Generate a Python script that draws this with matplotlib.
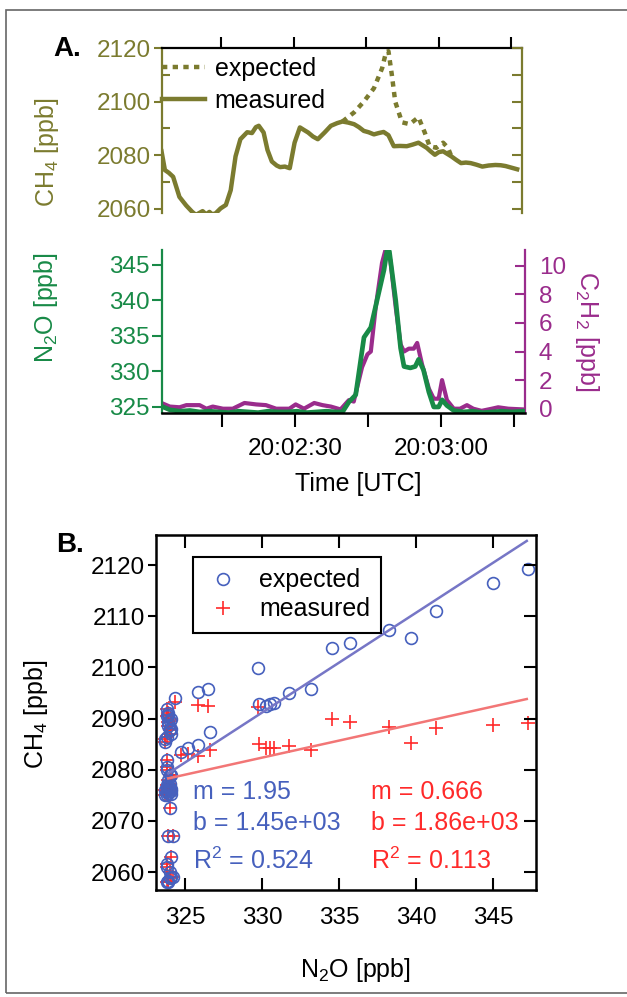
import numpy as np
import matplotlib
matplotlib.use("Agg")
import matplotlib.pyplot as plt
from matplotlib.patches import Rectangle
from matplotlib.ticker import FixedLocator, MultipleLocator, NullFormatter

plt.rcParams['font.family'] = ['Liberation Sans', 'DejaVu Sans']
plt.rcParams['mathtext.fontset'] = 'custom'
plt.rcParams['mathtext.rm'] = 'Liberation Sans'
plt.rcParams['mathtext.default'] = 'regular'

OLIVE = '#7b7b2f'
GREEN = '#188a47'
PURPLE = '#9a2c8c'
BLUE = '#4660bd'
BLUE_LINE = '#7676c6'
RED = '#ff2a2a'
RED_LINE = '#f27676'

# --- panel A: time series, time in seconds after 20:02:00 UTC ---
t_ch4 = [2.7, 3.4, 4.2, 5.1, 6.4, 7.8, 9.0, 9.8, 10.5, 11.2, 11.9, 12.6, 13.2, 13.9,
         14.9, 16.0, 17.0, 18.0, 19.0, 20.4, 21.4, 22.2, 22.8, 23.8, 24.6, 25.5, 26.5,
         27.2, 28.2, 29.2, 30.2, 31.3, 32.0, 33.0, 34.0, 35.0, 36.4, 37.7, 39.0, 40.1,
         41.3, 42.5, 43.5, 44.5, 45.5, 46.6, 47.6, 48.6, 49.6, 50.7, 52.0, 53.4, 54.6,
         55.8, 56.6, 57.5, 58.3, 59.2, 60.0, 60.9, 61.7, 62.6, 63.6, 64.6, 65.6, 66.6,
         67.8, 69.0, 70.3, 71.7, 72.8, 73.8, 75.0, 76.2]
ch4_measured = [2081.5, 2074.5, 2073.5, 2072.0, 2064.5, 2061.3, 2059.0, 2057.8, 2058.5,
                2059.2, 2058.0, 2058.9, 2058.0, 2058.4, 2060.2, 2061.5, 2067.0, 2079.6,
                2086.0, 2088.6, 2088.3, 2090.5, 2091.0, 2088.5, 2082.0, 2077.7, 2076.2,
                2075.6, 2075.8, 2075.2, 2084.7, 2090.4, 2089.6, 2088.5, 2087.0, 2086.0,
                2088.5, 2091.0, 2092.0, 2092.6, 2092.2, 2091.6, 2090.5, 2089.1, 2088.6,
                2087.8, 2088.3, 2088.7, 2087.5, 2083.4, 2083.5, 2083.4, 2084.0, 2084.7,
                2083.8, 2082.8, 2081.5, 2080.2, 2081.2, 2081.5, 2080.6, 2079.6, 2078.3,
                2077.1, 2077.3, 2077.1, 2076.5, 2075.8, 2076.2, 2076.4, 2076.3, 2076.0,
                2075.4, 2074.8]
t_exp = [40.1, 42.5, 44.5, 46.6, 48.3, 49.1, 49.6, 50.3, 51.0, 52.4, 54.0, 55.8, 57.1,
         58.1, 59.5, 60.9, 61.9, 62.6]
ch4_expected = [2092.6, 2096.0, 2100.0, 2105.0, 2112.5, 2118.5, 2118.8, 2110.0, 2100.0,
                2092.3, 2091.6, 2094.2, 2088.5, 2083.4, 2082.8, 2084.7, 2082.8, 2079.6]

t_n2o = [2.7, 4.4, 6.4, 8.5, 10.5, 12.5, 14.5, 16.5, 18.5, 20.5, 22.5, 24.5, 26.5, 28.5,
         30.5, 32.5, 34.5, 36.5, 38.5, 39.8, 41.1, 42.5, 44.2, 45.6, 47.2, 48.3, 48.9,
         49.4, 50.7, 51.7, 52.4, 53.7, 54.7, 55.4, 56.4, 57.5, 58.5, 59.5, 60.2, 61.2,
         62.6, 64.5, 66.5, 68.5, 70.5, 72.5, 74.5, 76.8]
n2o = [325.1, 324.6, 324.4, 324.5, 324.3, 324.4, 324.3, 324.2, 324.4, 324.3, 324.2,
       324.4, 324.3, 324.3, 324.4, 324.2, 324.3, 324.4, 324.3, 324.3, 325.7, 326.7,
       334.8, 336.2, 341.0, 344.3, 346.9, 346.9, 340.0, 333.3, 330.7, 330.5, 330.7,
       331.7, 330.2, 327.1, 325.0, 325.0, 326.0, 325.2, 324.5, 324.3, 324.4, 324.2,
       324.3, 324.4, 324.3, 324.4]

t_c2h2 = [2.7, 4.4, 6.4, 7.8, 10.5, 11.9, 13.2, 15.3, 17.3, 19.7, 22.1, 24.1, 26.2,
          28.9, 30.2, 31.9, 34.0, 35.7, 37.4, 39.4, 41.1, 42.1, 43.8, 44.9, 45.6, 46.6,
          47.9, 48.6, 49.6, 50.7, 51.7, 52.4, 53.4, 54.4, 55.1, 56.1, 57.5, 58.5, 59.5,
          60.2, 61.2, 62.6, 63.9, 65.3, 66.6, 68.3, 70.4, 71.7, 73.8, 76.8]
c2h2 = [0.4, 0.15, 0.1, 0.25, 0.25, 0.0, 0.15, 0.0, 0.0, 0.4, 0.3, 0.25, 0.0, 0.0, 0.3,
        0.0, 0.4, 0.25, 0.15, -0.05, 0.6, 0.5, 2.9, 3.8, 4.0, 7.1, 10.2, 11.1, 10.4, 7.1,
        4.5, 4.0, 4.2, 4.2, 4.6, 3.1, 1.4, 0.7, 0.7, 2.0, 0.6, 0.0, 0.0, 0.25, 0.0,
        -0.15, 0.0, 0.1, 0.0, -0.05]

time_ticks = [15, 30, 45, 60, 75]
time_labels = ['', '20:02:30', '', '20:03:00', '']

# --- panel B: CH4 vs N2O scatter ---
scatter_n2o = [323.8, 323.7, 324.0, 323.9, 324.1, 323.8, 324.2, 323.9, 324.0, 323.8,
               324.1, 323.9, 324.0, 323.8, 324.2, 324.1, 323.7, 324.0, 323.9, 323.8,
               323.9, 324.1, 323.8, 324.0, 323.7, 323.9, 324.1, 323.8, 324.0, 323.9,
               324.1, 323.8, 323.7, 324.0, 324.1, 323.9, 323.8, 324.0, 323.9, 323.8,
               324.0, 323.9, 324.1, 323.8, 324.0, 323.9, 323.8, 324.0, 324.1, 323.9,
               323.8,
               324.36, 324.73, 325.2, 325.8, 325.82, 326.5, 326.6, 329.74, 329.8,
               330.26, 330.5, 330.78, 331.74, 333.2, 334.55, 335.74, 338.23, 339.69,
               341.3, 344.99, 347.27]
ch4_exp_scatter = [2080.5, 2075.0, 2072.5, 2067.0, 2063.0, 2061.0, 2059.0, 2058.0, 2058.8,
                   2058.0, 2059.0, 2058.3, 2060.0, 2061.5, 2067.0, 2079.0, 2085.5, 2088.0,
                   2088.5, 2090.5, 2090.8, 2087.0, 2080.0, 2076.5, 2076.0, 2075.5, 2075.3,
                   2082.0, 2089.5, 2089.3, 2088.0, 2086.5, 2086.0, 2087.8, 2090.0, 2091.2,
                   2091.8, 2079.0, 2078.0, 2077.0, 2077.3, 2076.8, 2076.2, 2075.8, 2076.3,
                   2076.6, 2076.4, 2076.2, 2075.9, 2075.5, 2075.1,
                   2094.1, 2083.5, 2084.3, 2084.8, 2095.2, 2095.8, 2087.4, 2099.9, 2092.8,
                   2092.4, 2092.8, 2093.1, 2095.0, 2095.8, 2103.8, 2104.8, 2107.3, 2105.8,
                   2111.0, 2116.5, 2119.3]
ch4_meas_scatter = [2080.5, 2075.0, 2072.5, 2067.0, 2063.0, 2061.0, 2059.0, 2058.0, 2058.8,
                    2058.0, 2059.0, 2058.3, 2060.0, 2061.5, 2067.0, 2079.0, 2085.5, 2088.0,
                    2088.5, 2090.5, 2090.8, 2087.0, 2080.0, 2076.5, 2076.0, 2075.5, 2075.3,
                    2082.0, 2089.5, 2089.3, 2088.0, 2086.5, 2086.0, 2087.8, 2090.0, 2091.2,
                    2091.8, 2079.0, 2078.0, 2077.0, 2077.3, 2076.8, 2076.2, 2075.8, 2076.3,
                    2076.6, 2076.4, 2076.2, 2075.9, 2075.5, 2075.1,
                    2093.3, 2082.9, 2083.0, 2082.7, 2092.7, 2092.4, 2083.9, 2092.3, 2085.1,
                    2084.3, 2084.3, 2084.3, 2084.6, 2083.8, 2090.0, 2089.3, 2088.4, 2085.3,
                    2088.2, 2088.7, 2089.2]

fit_x = [323.9, 347.2]
fit_exp = {'m': 1.95, 'b': 1447.7, 'r2': 0.524}
fit_meas = {'m': 0.666, 'b': 1862.6, 'r2': 0.113}

TICK_FS = 17.5
FS = 18

fig = plt.figure(figsize=(6.27, 9.97), dpi=100)
fig.patches.append(Rectangle((6 / 627, 4 / 997), 1.2, 1 - 14 / 997, transform=fig.transFigure,
                             fill=False, edgecolor='#666666', linewidth=1.2))

# ---------------- top: CH4 ----------------
ax1 = fig.add_axes([162 / 627, 1 - 213 / 997, 360 / 627, 165 / 997])
ax1.plot(t_exp, ch4_expected, color=OLIVE, lw=3.2, ls=(0, (1.2, 1.2)), label='expected')
ax1.plot(t_ch4, ch4_measured, color=OLIVE, lw=3.2, label='measured')
ax1.set_xlim(2.8, 77.2)
ax1.set_ylim(2058.5, 2120)
ax1.spines['bottom'].set_visible(False)
ax1.spines['right'].set_visible(False)
ax1.spines['left'].set_color(OLIVE)
ax1.spines['left'].set_linewidth(1.6)
ax1.spines['top'].set_linewidth(1.6)
ax1.xaxis.tick_top()
ax1.xaxis.set_major_locator(FixedLocator(time_ticks))
ax1.tick_params(axis='x', direction='out', length=8, width=1.5, labeltop=False)
ax1.yaxis.set_major_locator(FixedLocator([2060, 2080, 2100, 2120]))
ax1.yaxis.set_minor_locator(MultipleLocator(10))
ax1.tick_params(axis='y', which='major', direction='out', length=6, width=1.5,
                colors=OLIVE, labelsize=TICK_FS, pad=2)
ax1.tick_params(axis='y', which='minor', direction='in', length=6, width=1.5, color=OLIVE)
ax1.set_ylabel('CH$_4$ [ppb]', color=OLIVE, fontsize=FS)
ax1.yaxis.set_label_coords(-0.28, 0.37)
ax1r = ax1.twinx()
ax1r.set_ylim(ax1.get_ylim())
for s in ['top', 'bottom', 'left']:
    ax1r.spines[s].set_visible(False)
ax1r.spines['right'].set_color(OLIVE)
ax1r.spines['right'].set_linewidth(1.6)
ax1r.yaxis.set_major_locator(MultipleLocator(10))
ax1r.yaxis.set_major_formatter(NullFormatter())
ax1r.tick_params(axis='y', direction='in', length=7, width=1.5, color=OLIVE)
leg1 = ax1.legend(loc='upper left', bbox_to_anchor=(0.0, 0.945), frameon=False, fontsize=FS,
                  handlelength=1.7, handletextpad=0.4, borderpad=0, borderaxespad=0,
                  labelspacing=0.3)

# ---------------- middle: N2O and C2H2 ----------------
ax2 = fig.add_axes([162 / 627, 1 - 413 / 997, 363 / 627, 163 / 997])
ax2c = ax2.twinx()
ax2.set_zorder(ax2c.get_zorder() + 1)
ax2.patch.set_visible(False)
ax2c.plot(t_c2h2, c2h2, color=PURPLE, lw=3.0)
ax2.plot(t_n2o, n2o, color=GREEN, lw=3.4)
ax2.set_xlim(2.8, 77.2)
ax2.set_ylim(324.15, 347.1)
ax2c.set_ylim(-0.3, 11.1)
for a in (ax2, ax2c):
    a.spines['top'].set_visible(False)
ax2.spines['right'].set_visible(False)
ax2c.spines['left'].set_visible(False)
ax2c.spines['bottom'].set_visible(False)
ax2.spines['left'].set_color(GREEN)
ax2.spines['left'].set_linewidth(1.6)
ax2.spines['bottom'].set_linewidth(1.8)
ax2c.spines['right'].set_color(PURPLE)
ax2c.spines['right'].set_linewidth(1.6)
ax2.xaxis.set_major_locator(FixedLocator(time_ticks))
ax2.set_xticklabels(time_labels)
ax2.tick_params(axis='x', direction='out', length=10, width=1.5, labelsize=TICK_FS, pad=8)
ax2.yaxis.set_major_locator(MultipleLocator(5))
ax2.tick_params(axis='y', direction='out', length=7, width=1.5, colors=GREEN,
                labelsize=TICK_FS, pad=2)
ax2c.yaxis.set_major_locator(MultipleLocator(2))
ax2c.tick_params(axis='y', direction='in', length=7, width=1.5, colors=PURPLE,
                 labelsize=TICK_FS, pad=10)
ax2.set_ylabel('N$_2$O [ppb]', color=GREEN, fontsize=FS)
ax2.yaxis.set_label_coords(-0.28, 0.65)
ax2c.set_ylabel('C$_2$H$_2$ [ppb]', color=PURPLE, fontsize=FS, rotation=-90)
ax2c.yaxis.set_label_coords(1.21, 0.50)
ax2.set_xlabel('Time [UTC]', fontsize=FS)
ax2.xaxis.set_label_coords(0.54, -0.36)

# ---------------- bottom: scatter ----------------
ax3 = fig.add_axes([156 / 627, 1 - 890 / 997, 380 / 627, 355 / 997])
ax3.plot(scatter_n2o, ch4_meas_scatter, ls='none', marker='+', ms=9.5, mec=RED,
         mew=1.2, label='measured')
ax3.plot(scatter_n2o, ch4_exp_scatter, ls='none', marker='o', ms=8.5, mfc='none',
         mec=BLUE, mew=1.2, label='expected')
fx = np.array(fit_x)
ax3.plot(fx, fit_exp['m'] * fx + fit_exp['b'], color=BLUE_LINE, lw=1.8)
ax3.plot(fx, fit_meas['m'] * fx + fit_meas['b'], color=RED_LINE, lw=1.8)
ax3.set_xlim(323.1, 347.8)
ax3.set_ylim(2056.5, 2125.9)
for s in ax3.spines.values():
    s.set_linewidth(1.8)
ax3.xaxis.set_major_locator(MultipleLocator(5))
ax3.yaxis.set_major_locator(MultipleLocator(10))
ax3.tick_params(axis='both', labelsize=TICK_FS, width=1.5)
ax3.tick_params(axis='x', direction='in', length=9, top=True, pad=12)
ax3.tick_params(axis='y', direction='out', length=6, pad=2)
ax3r = ax3.twinx()
ax3r.set_ylim(ax3.get_ylim())
ax3r.yaxis.set_major_locator(MultipleLocator(10))
ax3r.yaxis.set_major_formatter(NullFormatter())
ax3r.tick_params(axis='y', direction='in', length=9, width=1.5)
for s in ax3r.spines.values():
    s.set_visible(False)
ax3.set_ylabel('CH$_4$ [ppb]', fontsize=FS)
ax3.yaxis.set_label_coords(-0.28, 0.496)
ax3.set_xlabel('N$_2$O [ppb]', fontsize=FS)
ax3.xaxis.set_label_coords(0.526, -0.185)
h, l = ax3.get_legend_handles_labels()
leg3 = ax3.legend(h[::-1], l[::-1], loc='upper left', bbox_to_anchor=(0.097, 0.938),
                  fontsize=FS, fancybox=False, edgecolor='black', framealpha=1,
                  handlelength=1.5, handletextpad=0.7, borderpad=0.45, labelspacing=0.2,
                  borderaxespad=0)
leg3.get_frame().set_linewidth(1.5)

rows_y = [2075.6, 2069.6, 2062.3]
for fit, col, x0 in [(fit_exp, BLUE, 325.5), (fit_meas, RED, 337.1)]:
    lines = ['m = {:.3g}'.format(fit['m']), 'b = {:.3g}'.format(fit['b']),
             'R$^2$ = {:.3f}'.format(fit['r2'])]
    for txt, yy in zip(lines, rows_y):
        ax3.text(x0, yy, txt, color=col, fontsize=FS, va='center', ha='left')

fig.text(53 / 627, 1 - 49 / 997, 'A.', fontsize=20, fontweight='bold', va='center')
fig.text(56 / 627, 1 - 545 / 997, 'B.', fontsize=20, fontweight='bold', va='center')

fig.savefig('out.png', dpi=100)
